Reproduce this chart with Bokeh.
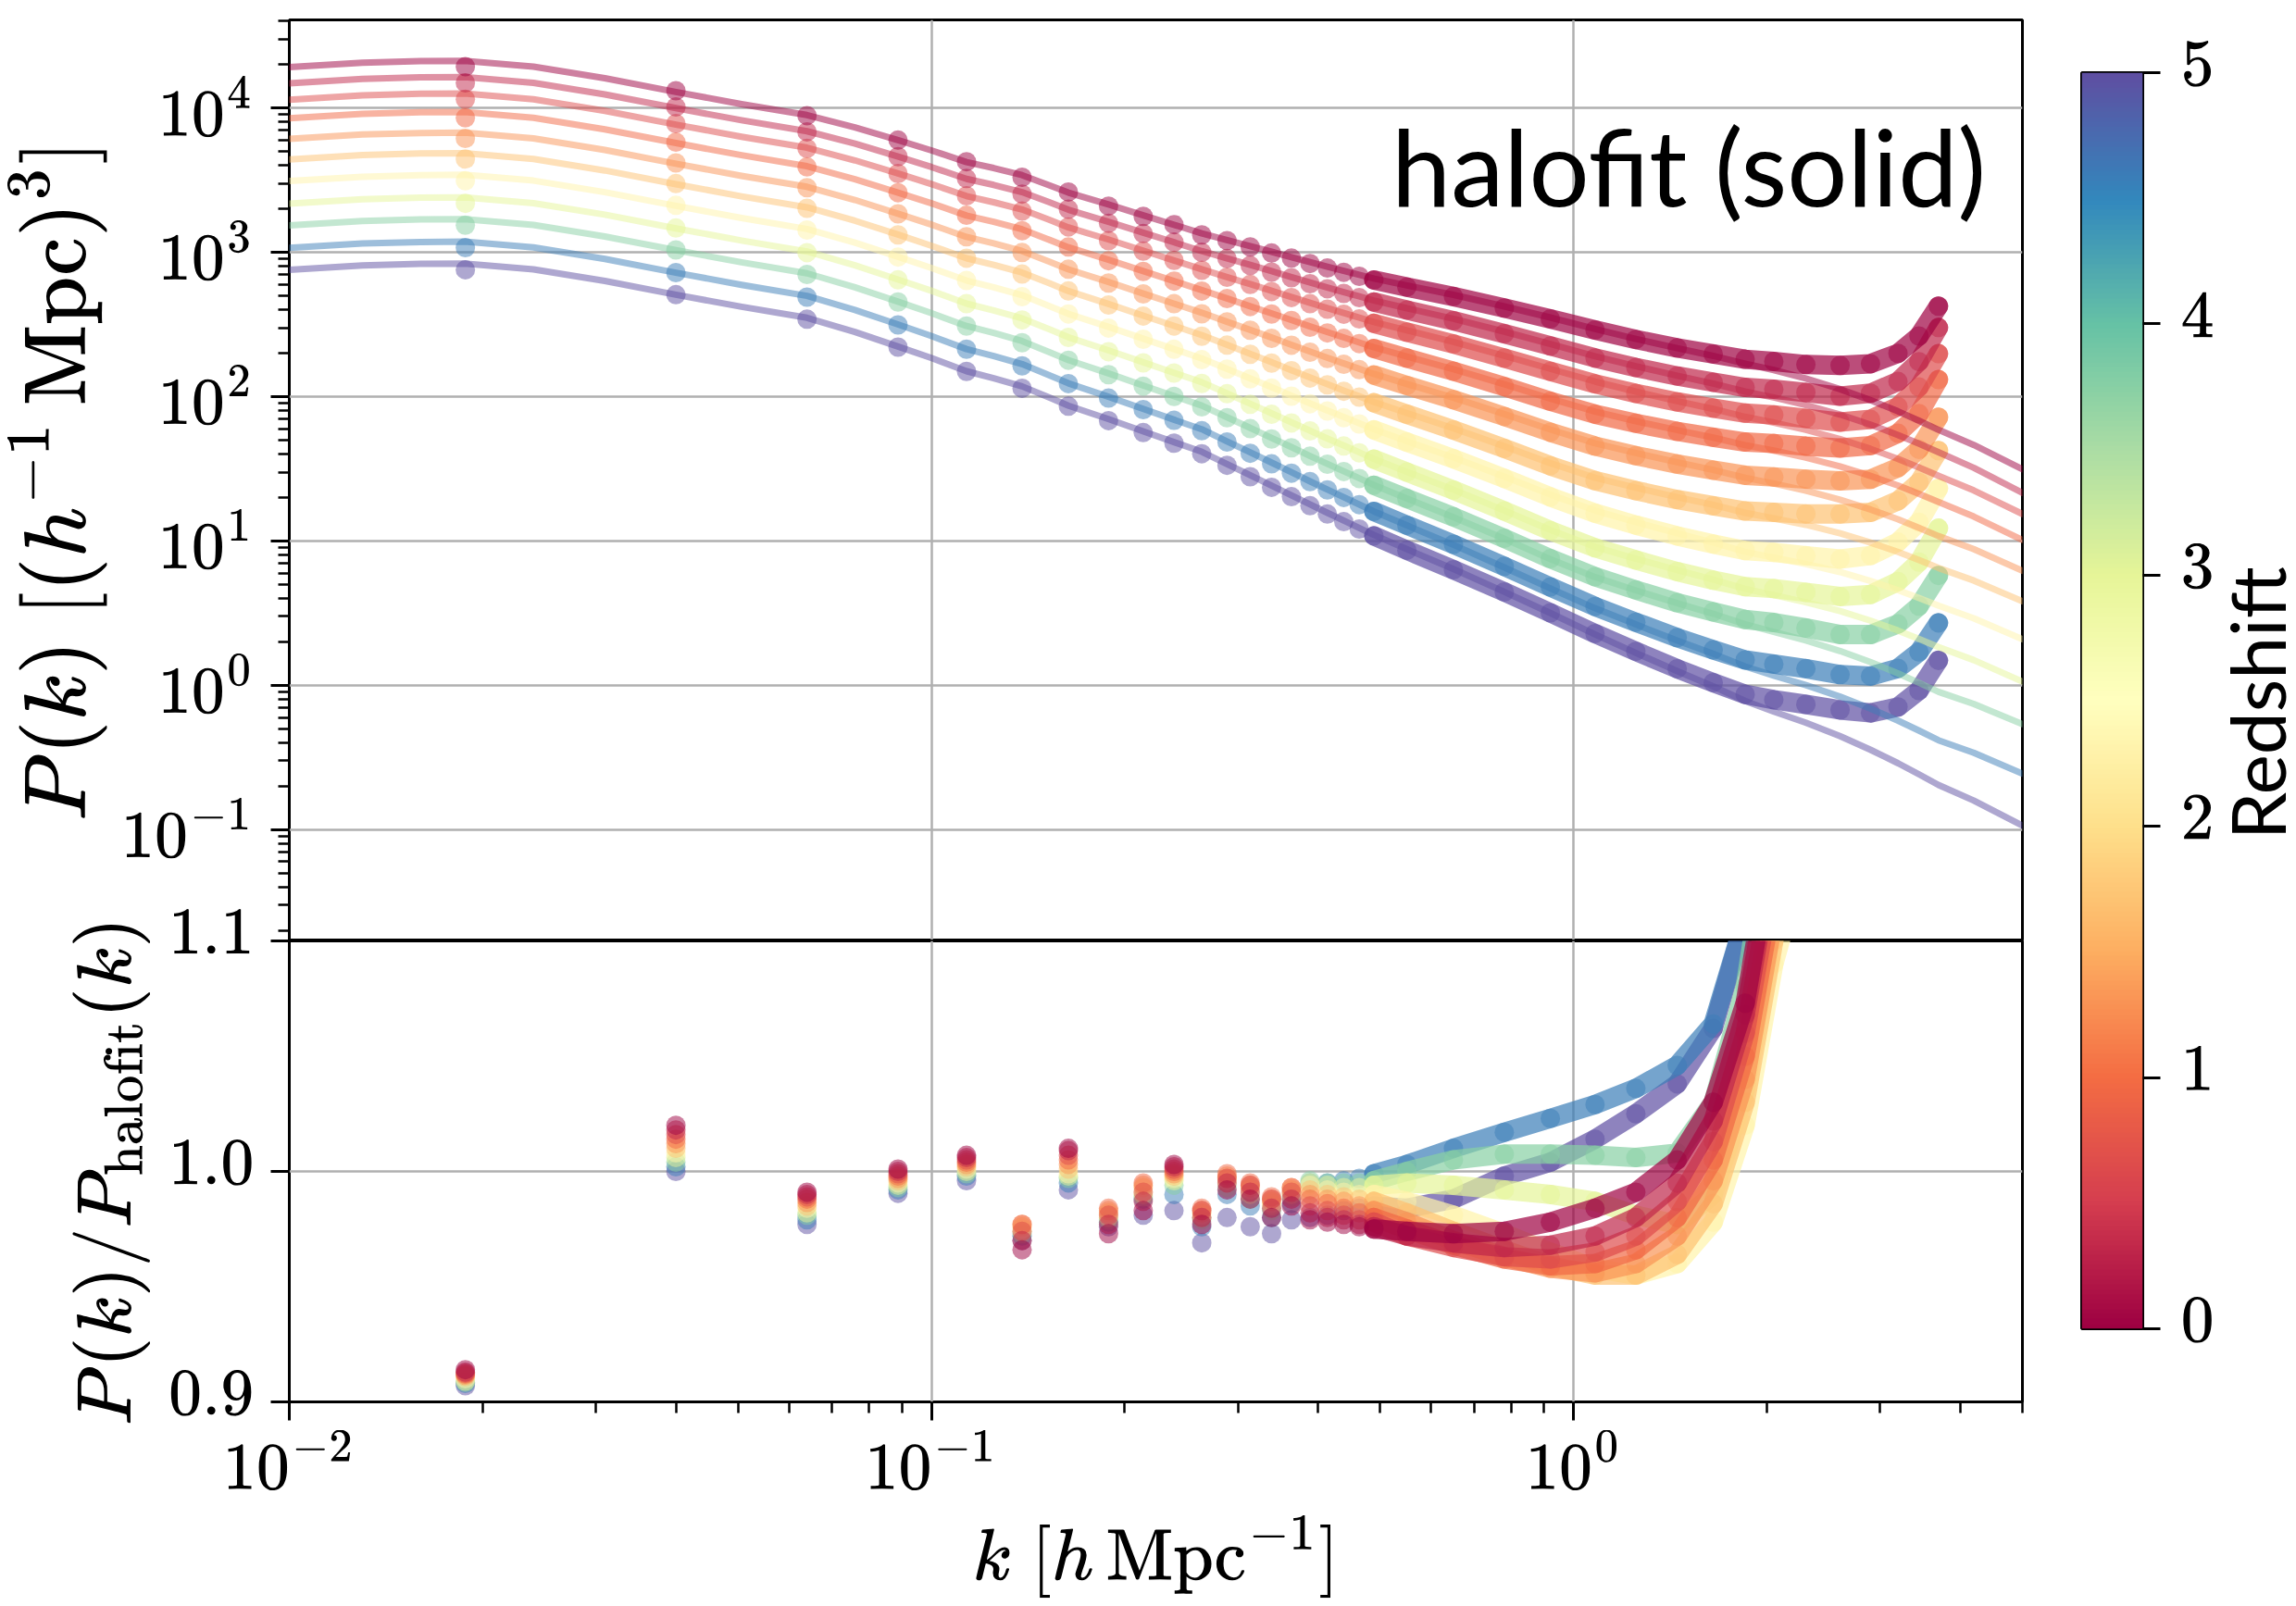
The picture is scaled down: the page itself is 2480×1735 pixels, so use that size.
import numpy as np
from bokeh.plotting import figure
from bokeh.layouts import row, column
from bokeh.models import FixedTicker, Label, LinearColorMapper, Range1d, TeX
from bokeh.embed import file_html
from bokeh.resources import INLINE
from bokeh.palettes import Spectral11

# ---------------------------------------------------------------- data
# wavenumber grid [h/Mpc] on which the halofit curves are tabulated
k_grid = [0.0100, 0.0130, 0.0160, 0.0188, 0.0240, 0.0310, 0.0400, 0.0506, 0.0640, 0.0760,
          0.0887, 0.1000, 0.1134, 0.1250, 0.1384, 0.1530, 0.1634, 0.1887, 0.2137, 0.2386,
          0.2636, 0.2886, 0.3136, 0.3386, 0.3636, 0.3886, 0.4136, 0.4386, 0.4636, 0.4886,
          0.55, 0.65, 0.78, 0.92, 1.08, 1.25, 1.45, 1.65, 1.85, 2.05,
          2.30, 2.60, 2.90, 3.20, 3.45, 3.70, 4.20, 5.00]

# bins of the simulation power spectrum [h/Mpc]
sim_k = [0.0188, 0.0400, 0.0640, 0.0887, 0.1134, 0.1384, 0.1634, 0.1887, 0.2137, 0.2386,
         0.2636, 0.2886, 0.3136, 0.3386, 0.3636, 0.3886, 0.4136, 0.4386, 0.4636, 0.4886,
         0.55, 0.65, 0.78, 0.92, 1.08, 1.25, 1.45, 1.65, 1.85, 2.05,
         2.30, 2.60, 2.90, 3.20, 3.45, 3.70]

redshifts = [0.0, 0.3, 0.65, 0.95, 1.3, 1.7, 2.3, 3.0, 3.75, 4.6, 5.0]

# log10 of the halofit P(k) [(Mpc/h)^3], one row per redshift, on k_grid
halofit_log10 = [
    [4.282, 4.312, 4.323, 4.325, 4.285, 4.205, 4.110, 4.026, 3.950, 3.865, 3.776, 3.705, 3.624, 3.583, 3.534, 3.462,
     3.413, 3.331, 3.256, 3.190, 3.130, 3.084, 3.042, 3.003, 2.966, 2.931, 2.900, 2.871, 2.844, 2.818, 2.770, 2.705,
     2.625, 2.548, 2.468, 2.400, 2.335, 2.282, 2.228, 2.184, 2.125, 2.052, 1.975, 1.898, 1.833, 1.770, 1.665, 1.497],
    [4.170, 4.200, 4.211, 4.213, 4.173, 4.093, 3.998, 3.914, 3.838, 3.752, 3.662, 3.590, 3.508, 3.466, 3.416, 3.344,
     3.294, 3.211, 3.135, 3.069, 3.008, 2.958, 2.912, 2.869, 2.828, 2.790, 2.756, 2.724, 2.695, 2.666, 2.612, 2.539,
     2.450, 2.365, 2.280, 2.211, 2.145, 2.090, 2.035, 1.994, 1.942, 1.876, 1.806, 1.734, 1.674, 1.615, 1.507, 1.334],
    [4.056, 4.086, 4.097, 4.099, 4.059, 3.979, 3.884, 3.800, 3.724, 3.636, 3.545, 3.472, 3.389, 3.346, 3.296, 3.222,
     3.172, 3.088, 3.011, 2.943, 2.882, 2.828, 2.779, 2.733, 2.690, 2.650, 2.613, 2.579, 2.547, 2.517, 2.459, 2.379,
     2.283, 2.192, 2.104, 2.035, 1.969, 1.915, 1.860, 1.820, 1.770, 1.706, 1.638, 1.569, 1.510, 1.452, 1.350, 1.187],
    [3.928, 3.958, 3.969, 3.971, 3.931, 3.851, 3.756, 3.672, 3.596, 3.506, 3.413, 3.339, 3.254, 3.211, 3.159, 3.084,
     3.034, 2.948, 2.869, 2.800, 2.738, 2.680, 2.626, 2.577, 2.530, 2.486, 2.447, 2.410, 2.375, 2.342, 2.278, 2.190,
     2.086, 1.986, 1.896, 1.830, 1.768, 1.716, 1.664, 1.626, 1.578, 1.517, 1.451, 1.384, 1.326, 1.270, 1.169, 1.007],
    [3.785, 3.815, 3.826, 3.828, 3.788, 3.708, 3.613, 3.529, 3.453, 3.362, 3.267, 3.191, 3.106, 3.061, 3.008, 2.933,
     2.881, 2.794, 2.714, 2.644, 2.581, 2.518, 2.462, 2.409, 2.359, 2.312, 2.269, 2.230, 2.193, 2.157, 2.087, 1.992,
     1.879, 1.772, 1.677, 1.609, 1.545, 1.492, 1.438, 1.398, 1.349, 1.286, 1.218, 1.150, 1.091, 1.034, 0.943, 0.794],
    [3.643, 3.673, 3.684, 3.686, 3.646, 3.566, 3.471, 3.387, 3.311, 3.218, 3.122, 3.045, 2.958, 2.913, 2.859, 2.783,
     2.731, 2.642, 2.561, 2.490, 2.426, 2.358, 2.296, 2.238, 2.183, 2.132, 2.086, 2.042, 2.002, 1.963, 1.886, 1.780,
     1.656, 1.539, 1.438, 1.369, 1.303, 1.250, 1.195, 1.157, 1.112, 1.053, 0.989, 0.924, 0.868, 0.813, 0.726, 0.582],
    [3.493, 3.523, 3.534, 3.536, 3.496, 3.416, 3.321, 3.237, 3.161, 3.066, 2.969, 2.891, 2.804, 2.757, 2.703, 2.625,
     2.573, 2.483, 2.401, 2.329, 2.264, 2.192, 2.126, 2.065, 2.007, 1.953, 1.904, 1.858, 1.815, 1.774, 1.691, 1.578,
     1.446, 1.321, 1.211, 1.130, 1.053, 0.989, 0.925, 0.884, 0.841, 0.785, 0.723, 0.660, 0.605, 0.552, 0.464, 0.320],
    [3.337, 3.367, 3.378, 3.380, 3.340, 3.260, 3.165, 3.081, 3.005, 2.909, 2.811, 2.733, 2.644, 2.597, 2.542, 2.464,
     2.411, 2.320, 2.238, 2.165, 2.100, 2.022, 1.951, 1.884, 1.822, 1.764, 1.710, 1.661, 1.614, 1.569, 1.479, 1.355,
     1.211, 1.076, 0.959, 0.877, 0.798, 0.733, 0.669, 0.625, 0.576, 0.515, 0.448, 0.380, 0.322, 0.266, 0.175, 0.026],
    [3.186, 3.216, 3.227, 3.229, 3.189, 3.109, 3.014, 2.930, 2.854, 2.757, 2.658, 2.578, 2.489, 2.441, 2.385, 2.306,
     2.253, 2.161, 2.077, 2.004, 1.938, 1.857, 1.783, 1.714, 1.650, 1.589, 1.534, 1.483, 1.435, 1.388, 1.294, 1.165,
     1.015, 0.874, 0.750, 0.658, 0.569, 0.496, 0.423, 0.371, 0.311, 0.238, 0.161, 0.083, 0.018, -0.045, -0.129, -0.268],
    [3.030, 3.060, 3.071, 3.073, 3.033, 2.953, 2.858, 2.774, 2.698, 2.600, 2.500, 2.420, 2.329, 2.281, 2.225, 2.145,
     2.092, 1.999, 1.915, 1.840, 1.774, 1.690, 1.614, 1.543, 1.476, 1.413, 1.356, 1.303, 1.253, 1.205, 1.108, 0.973,
     0.817, 0.672, 0.534, 0.422, 0.311, 0.219, 0.131, 0.068, 0.002, -0.078, -0.161, -0.244, -0.313, -0.380, -0.467, -0.611],
    [2.878, 2.908, 2.919, 2.921, 2.881, 2.801, 2.706, 2.622, 2.546, 2.448, 2.347, 2.267, 2.176, 2.127, 2.071, 1.991,
     1.937, 1.844, 1.759, 1.685, 1.618, 1.533, 1.456, 1.384, 1.316, 1.253, 1.195, 1.141, 1.090, 1.042, 0.943, 0.806,
     0.648, 0.501, 0.353, 0.225, 0.099, -0.007, -0.108, -0.182, -0.259, -0.352, -0.446, -0.539, -0.616, -0.690, -0.798, -0.971],
]

# P_sim / P_halofit on sim_k, one row per redshift
sim_ratio = [
    [0.914, 1.020, 0.991, 1.001, 1.007, 0.966, 1.010, 0.973, 0.983, 1.003, 0.977, 0.992, 0.988, 0.980, 0.985, 0.979,
     0.978, 0.977, 0.976, 0.975, 0.974, 0.973, 0.974, 0.978, 0.984, 0.991, 1.005, 1.030, 1.073, 1.146, 1.25, 1.46,
     1.79, 2.52, 3.86, 7.18],
    [0.913, 1.018, 0.990, 1.000, 1.006, 0.970, 1.009, 0.977, 0.987, 1.002, 0.980, 0.995, 0.991, 0.984, 0.988, 0.982,
     0.980, 0.979, 0.977, 0.976, 0.972, 0.969, 0.967, 0.968, 0.972, 0.980, 0.995, 1.022, 1.068, 1.14, 1.22, 1.34,
     1.65, 2.35, 3.7, 7.3],
    [0.9125, 1.016, 0.989, 0.999, 1.005, 0.974, 1.007, 0.981, 0.991, 1.001, 0.983, 0.997, 0.994, 0.988, 0.991, 0.985,
     0.983, 0.981, 0.979, 0.978, 0.972, 0.967, 0.963, 0.962, 0.965, 0.972, 0.987, 1.013, 1.060, 1.13, 1.20, 1.31,
     1.60, 2.3, 3.6, 7.0],
    [0.912, 1.014, 0.988, 0.998, 1.004, 0.977, 1.005, 0.984, 0.995, 1.000, 0.984, 0.999, 0.995, 0.989, 0.993, 0.988,
     0.986, 0.984, 0.982, 0.980, 0.975, 0.968, 0.962, 0.959, 0.960, 0.966, 0.980, 1.005, 1.050, 1.12, 1.20, 1.34,
     1.62, 2.3, 3.6, 7.05],
    [0.9115, 1.012, 0.9865, 0.997, 1.003, 0.977, 1.003, 0.983, 0.994, 0.999, 0.983, 0.998, 0.994, 0.988, 0.993, 0.990,
     0.988, 0.987, 0.985, 0.983, 0.978, 0.970, 0.963, 0.958, 0.956, 0.960, 0.972, 0.996, 1.040, 1.11, 1.20, 1.35,
     1.62, 2.28, 3.5, 6.65],
    [0.911, 1.010, 0.985, 0.996, 1.002, 0.976, 1.001, 0.982, 0.993, 0.998, 0.982, 0.997, 0.993, 0.987, 0.992, 0.992,
     0.990, 0.989, 0.988, 0.987, 0.982, 0.974, 0.966, 0.959, 0.955, 0.955, 0.964, 0.986, 1.030, 1.10, 1.19, 1.36,
     1.62, 2.26, 3.45, 6.5],
    [0.910, 1.008, 0.984, 0.995, 1.001, 0.975, 0.999, 0.981, 0.991, 0.997, 0.981, 0.996, 0.992, 0.986, 0.991, 0.994,
     0.992, 0.991, 0.990, 0.990, 0.987, 0.981, 0.973, 0.965, 0.958, 0.955, 0.960, 0.978, 1.020, 1.09, 1.14, 1.23,
     1.50, 2.15, 3.35, 6.5],
    [0.909, 1.006, 0.982, 0.994, 1.000, 0.974, 0.998, 0.980, 0.990, 0.996, 0.980, 0.995, 0.990, 0.985, 0.990, 0.995,
     0.994, 0.993, 0.993, 0.994, 0.995, 0.994, 0.992, 0.990, 0.987, 0.981, 0.977, 0.990, 1.035, 1.11, 1.17, 1.26,
     1.52, 2.18, 3.4, 6.65],
    [0.9085, 1.004, 0.981, 0.993, 0.999, 0.973, 0.997, 0.979, 0.989, 0.994, 0.979, 0.993, 0.988, 0.983, 0.989, 0.996,
     0.995, 0.995, 0.995, 0.996, 1.000, 1.005, 1.0075, 1.0075, 1.007, 1.006, 1.008, 1.030, 1.080, 1.16, 1.22, 1.30,
     1.55, 2.2, 3.4, 6.4],
    [0.908, 1.002, 0.979, 0.992, 0.998, 0.972, 0.995, 0.978, 0.988, 0.990, 0.976, 0.990, 0.985, 0.980, 0.986, 0.995,
     0.995, 0.996, 0.997, 0.999, 1.003, 1.010, 1.017, 1.023, 1.029, 1.036, 1.046, 1.064, 1.110, 1.20, 1.30, 1.42,
     1.68, 2.3, 3.5, 6.5],
    [0.907, 1.000, 0.977, 0.9905, 0.996, 0.970, 0.992, 0.976, 0.981, 0.983, 0.969, 0.980, 0.976, 0.973, 0.979, 0.980,
     0.981, 0.983, 0.984, 0.985, 0.984, 0.988, 0.998, 1.004, 1.014, 1.025, 1.038, 1.062, 1.110, 1.21, 1.34, 1.52,
     1.80, 2.45, 3.8, 7.3],
]

Z_MIN, Z_MAX = 0.0, 5.0

# ---------------------------------------------------------------- colours
def _rgb(h):
    return tuple(int(h[i:i + 2], 16) for i in (1, 3, 5))

SPECTRAL = [_rgb(c) for c in reversed(Spectral11)]   # red (low z) -> purple (high z)

def spectral(t):
    t = min(max(t, 0.0), 1.0) * 10.0
    i = min(int(t), 9)
    f = t - i
    a, b = SPECTRAL[i], SPECTRAL[i + 1]
    return "#%02x%02x%02x" % tuple(int(round(a[j] + (b[j] - a[j]) * f)) for j in range(3))

palette = [spectral(j / 255.0) for j in range(256)]
colors = [spectral((z - Z_MIN) / (Z_MAX - Z_MIN)) for z in redshifts]

k_arr = np.array(k_grid)
sim_idx = [k_grid.index(k) for k in sim_k]
band_from = sim_k.index(0.4886)

MARKER = 21
GRID = "#b0b0b0"


def style_axis(ax, label_size="66px", standoff=20):
    ax.axis_line_color = None
    ax.major_tick_line_color = "black"
    ax.major_tick_line_width = 3
    ax.major_tick_out = 20
    ax.major_tick_in = 0
    ax.minor_tick_line_color = "black"
    ax.minor_tick_line_width = 2.5
    ax.minor_tick_out = 12
    ax.minor_tick_in = 0
    ax.major_label_text_font_size = "62px"
    ax.major_label_text_color = "black"
    ax.major_label_standoff = 18
    ax.axis_label_text_font_size = label_size
    ax.axis_label_text_font_style = "normal"
    ax.axis_label_text_color = "black"
    ax.axis_label_standoff = standoff


def style_frame(p):
    p.outline_line_color = "black"
    p.outline_line_width = 3
    p.outline_line_alpha = 1.0
    p.background_fill_color = "white"
    for g in p.grid:
        g.grid_line_color = GRID
        g.grid_line_width = 2.5


def decade_minors(lo, hi):
    out = []
    for d in range(lo, hi + 1):
        for m in range(2, 10):
            out.append(m * 10.0 ** d)
    return out

# ---------------------------------------------------------------- top panel
p_top = figure(width=2200, height=1016, x_axis_type="log", y_axis_type="log",
               x_range=Range1d(0.01, 5.0), y_range=Range1d(10 ** -1.77, 10 ** 4.609),
               output_backend="svg", toolbar_location=None,
               min_border_left=312, min_border_right=16, min_border_top=21, min_border_bottom=0,
               border_fill_color="white")
style_frame(p_top)
p_top.xaxis.visible = False
p_top.xgrid.ticker = FixedTicker(ticks=[0.01, 0.1, 1.0])
decades = [0.1, 1.0, 10.0, 100.0, 1000.0, 10000.0]
p_top.ygrid.ticker = FixedTicker(ticks=decades)
p_top.yaxis.ticker = FixedTicker(ticks=decades,
                                 minor_ticks=[v for v in decade_minors(-2, 4) if v < 10 ** 4.609])
p_top.yaxis.major_label_overrides = {v: TeX(text="10^{%d}" % round(np.log10(v))) for v in decades}
style_axis(p_top.yaxis[0], label_size="78px", standoff=12)
p_top.yaxis.axis_label = TeX(text=r"P(k)\;[(h^{-1}\,\mathrm{Mpc})^3]")

for i in reversed(range(len(redshifts))):
    col = colors[i]
    hf = 10.0 ** np.array(halofit_log10[i])
    p_sim = hf[sim_idx] * np.array(sim_ratio[i])
    p_top.line(k_arr, hf, line_color=col, line_width=7, line_alpha=0.5,
               line_join="round", line_cap="round")
    p_top.line(sim_k[band_from:], p_sim[band_from:], line_color=col, line_width=MARKER,
               line_alpha=0.7, line_join="round", line_cap="round")
    p_top.scatter(sim_k, p_sim, size=MARKER, marker="circle", fill_color=col,
                  fill_alpha=0.5, line_color=None)

p_top.add_layout(Label(x=4.39, y=4045, text="halofit (solid)", text_font="Lato",
                       text_font_size="115px", text_color="black",
                       text_align="right", text_baseline="middle"))

# ---------------------------------------------------------------- ratio panel
p_bot = figure(width=2200, height=759, x_axis_type="log",
               x_range=p_top.x_range, y_range=Range1d(0.9, 1.1),
               output_backend="svg", toolbar_location=None,
               min_border_left=312, min_border_right=16, min_border_top=40, min_border_bottom=221,
               margin=(-40, 0, 0, 0))
style_frame(p_bot)
p_bot.border_fill_alpha = 0.0
p_bot.xgrid.ticker = FixedTicker(ticks=[0.01, 0.1, 1.0])
p_bot.ygrid.ticker = FixedTicker(ticks=[1.0])
x_minor = [v for v in decade_minors(-2, 0) if v <= 5.0]
p_bot.xaxis.ticker = FixedTicker(ticks=[0.01, 0.1, 1.0], minor_ticks=x_minor)
p_bot.xaxis.major_label_overrides = {0.01: TeX(text="10^{-2}"), 0.1: TeX(text="10^{-1}"),
                                     1.0: TeX(text="10^{0}")}
p_bot.yaxis.ticker = FixedTicker(ticks=[0.9, 1.0, 1.1], minor_ticks=[])
p_bot.yaxis.major_label_overrides = {0.9: TeX(text="0.9"), 1.0: TeX(text="1.0"), 1.1: TeX(text="1.1")}
style_axis(p_bot.xaxis[0], label_size="66px", standoff=20)
style_axis(p_bot.yaxis[0], label_size="71px", standoff=17)
p_bot.xaxis.major_label_standoff = 10
p_bot.xaxis.axis_label = TeX(text=r"k\;[h\,\mathrm{Mpc}^{-1}]")
p_bot.yaxis.axis_label = TeX(text=r"P(k)/P_{\mathrm{halofit}}(k)")

for i in reversed(range(len(redshifts))):
    col = colors[i]
    r = np.array(sim_ratio[i])
    p_bot.line(sim_k[band_from:], r[band_from:], line_color=col, line_width=MARKER,
               line_alpha=0.7, line_join="round", line_cap="round")
    p_bot.scatter(sim_k, r, size=MARKER, marker="circle", fill_color=col,
                  fill_alpha=0.5, line_color=None)

# ---------------------------------------------------------------- colour bar
mapper = LinearColorMapper(palette=palette, low=Z_MIN, high=Z_MAX)
p_cb = figure(width=200, height=1735, x_range=Range1d(0, 1), y_range=Range1d(Z_MIN, Z_MAX),
              x_axis_location=None, y_axis_location="right",
              output_backend="svg", toolbar_location=None,
              min_border_left=48, min_border_right=86, min_border_top=78, min_border_bottom=300,
              border_fill_color="white")
p_cb.image(image=[np.linspace(Z_MIN, Z_MAX, 256).reshape(256, 1)], x=0, y=Z_MIN, dw=1,
           dh=Z_MAX - Z_MIN, color_mapper=mapper)
p_cb.grid.visible = False
p_cb.outline_line_color = "black"
p_cb.outline_line_width = 3
cb_ticks = [0, 1, 2, 3, 4, 5]
p_cb.yaxis.ticker = FixedTicker(ticks=cb_ticks, minor_ticks=[])
p_cb.yaxis.major_label_overrides = {t: TeX(text=str(t)) for t in cb_ticks}
style_axis(p_cb.yaxis[0])
p_cb.yaxis.major_tick_out = 19
p_cb.yaxis.major_label_standoff = 22

# colour-bar title in its own narrow strip to the right of the bar
p_lab = figure(width=80, height=1735, x_range=Range1d(0, 80), y_range=Range1d(0, 1735),
               x_axis_location=None, y_axis_location=None,
               output_backend="svg", toolbar_location=None,
               min_border_left=0, min_border_right=0, min_border_top=0, min_border_bottom=0,
               border_fill_color="white", background_fill_color="white")
p_lab.outline_line_color = None
p_lab.grid.visible = False
p_lab.add_layout(Label(x=36, y=864, text="Redshift", angle=np.pi / 2,
                       text_font="Lato", text_font_size="82px", text_color="black",
                       text_align="center", text_baseline="middle"))

layout = row(column(p_top, p_bot, spacing=0), p_cb, p_lab, spacing=0)
open("out.html", "w").write(file_html(layout, INLINE, title="P(k) vs halofit"))
